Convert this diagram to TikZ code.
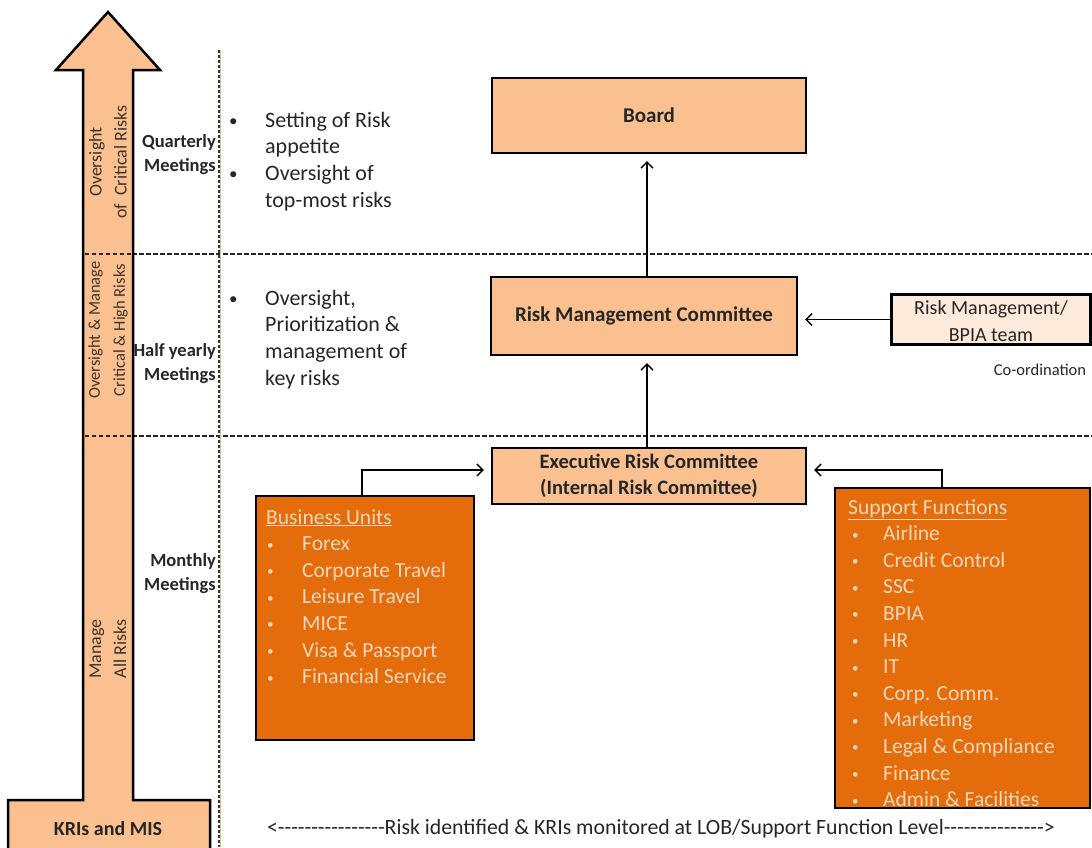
\documentclass[tikz,border=0pt]{standalone}
\usepackage{fontspec}
\setmainfont{Carlito}
\usetikzlibrary{arrows.meta}
\definecolor{lightor}{HTML}{FAC090}
\definecolor{darkor}{HTML}{E46C0A}
\definecolor{paleor}{HTML}{FDEADA}
\definecolor{boxtext}{HTML}{FBD8BC}
\definecolor{ink}{HTML}{262626}
\definecolor{tan}{HTML}{D8C38A}
\newcommand\dashrun[1]{\foreach \k in {1,...,#1}{-\kern0pt}}
\newcommand\smallbul{\raisebox{1.5pt}{\fontsize{13}{13}\selectfont•}}
\newcommand\midbul{\raisebox{0.5pt}{\fontsize{17}{17}\selectfont•}}
\tikzset{
  tierbox/.style={draw=black, line width=2.4pt, fill=lightor, inner sep=0pt, align=center, text=ink},
  listbox/.style={draw=black, line width=2.4pt, fill=darkor, inner sep=0pt},
  conn/.style={line width=1.3pt, -{Straight Barb[length=6pt,width=12pt,line width=1.3pt]}, shorten >=7pt},
  sep/.style={dash pattern=on 4.5pt off 2.5pt, line width=1.1pt, black!85},
  meet/.style={font=\fontsize{18.5}{24}\selectfont\bfseries, align=right, text=ink, inner sep=0pt},
  vtext/.style={rotate=90, font=\fontsize{18}{25}\selectfont, align=center, text=ink!85!brown, inner sep=0pt},
  bline/.style={anchor=base west, inner sep=0pt, font=\fontsize{22}{27}\selectfont, text=ink},
  oline/.style={anchor=base west, inner sep=0pt, font=\fontsize{21.5}{27}\selectfont, text=boxtext},
}
\begin{document}
\begin{tikzpicture}[x=1pt,y=-1pt]
\useasboundingbox (0,0) rectangle (1092,847);
\clip (0,0) rectangle (1092,847);
% separators
\draw[sep] (83,254) -- (1092,254);
\draw[sep] (83,436) -- (1092,436);
% vertical dotted line
\draw[tan, line width=0.9pt] (220.8,50) -- (220.8,847);
\draw[black!80, line width=1.2pt, dash pattern=on 3pt off 2pt] (219,50) -- (219,847);
% big arrow
\draw[fill=lightor, line width=2.5pt, line join=miter]
  (108,12) -- (160,70) -- (133,70) -- (133,800) -- (210,800) -- (210,860)
  -- (8,860) -- (8,800) -- (83,800) -- (83,70) -- (56,70) -- cycle;
\draw[sep] (84.5,254) -- (131.5,254);
\draw[sep] (84.5,436) -- (131.5,436);
\node[vtext] (v1) at (108,162) {Oversight\\of~~Critical Risks};
\node[vtext, font=\fontsize{16.5}{25}\selectfont] (v2) at (108,330) {Oversight \& Manage\\Critical \& High Risks};
\node[vtext] (v3) at (108,649) {Manage\\All Risks};
\node[font=\fontsize{20}{24}\selectfont\bfseries, text=ink] (kri) at (108,829) {KRIs and MIS};
% meeting labels
\node[meet, anchor=east] (m1) at (216,155) {Quarterly\\Meetings};
\node[meet, anchor=east] (m2) at (216,364) {Half yearly\\Meetings};
\node[meet, anchor=east] (m3) at (216,574) {Monthly\\Meetings};
% bullet texts
\node[bline] (t1) at (229,127) {\midbul};
\node[bline] (t2) at (265,127) {Setting of Risk};
\node[bline] (t3) at (265,153.7) {appetite};
\node[bline] (t4) at (229,180.4) {\midbul};
\node[bline] (t5) at (265,180.4) {Oversight of};
\node[bline] (t6) at (265,207) {top-most risks};
\node[bline] (s1) at (229,305) {\midbul};
\node[bline] (s2) at (265,305) {Oversight,};
\node[bline] (s3) at (265,331.7) {Prioritization \&};
\node[bline] (s4) at (265,358.4) {management of};
\node[bline] (s5) at (265,385) {key risks};
% tier boxes
\node[tierbox, minimum width=314pt, minimum height=75pt, font=\fontsize{21}{26}\selectfont\bfseries] (board) at (649,115.5) {Board};
\node[tierbox, minimum width=306pt, minimum height=78pt, font=\fontsize{21}{26}\selectfont\bfseries] (rmc) at (644,316) {Risk Management Committee};
\node[tierbox, minimum width=314pt, minimum height=56pt, font=\fontsize{20.5}{26}\selectfont\bfseries] (erc) at (649,476) {Executive Risk Committee\\(Internal Risk Committee)};
\node[draw=black, line width=2.4pt, fill=paleor, minimum width=198pt, minimum height=49pt, inner sep=0pt] (bpia) at (991,319.5) {};
\node[anchor=base, inner sep=0pt, font=\fontsize{20}{25}\selectfont, text=ink] (bp1) at (991,314) {Risk Management/};
\node[anchor=base, inner sep=0pt, font=\fontsize{20}{25}\selectfont, text=ink] (bp2) at (991,341) {BPIA team};
\draw[line width=2.4pt] (bpia.north west) rectangle (bpia.south east);
\node[font=\fontsize{16.5}{20}\selectfont, text=ink] (coord) at (1040,370) {Co-ordination};
% list boxes
\node[listbox, minimum width=218pt, minimum height=244pt] (bu) at (365,618) {};
\node[listbox, minimum width=255pt, minimum height=320pt] (sf) at (962.5,648) {};
\node[oline] (buh) at (266,524) {\underline{Business Units}};
\foreach \t [count=\i] in {Forex, Corporate Travel, Leisure Travel, MICE, Visa \& Passport, Financial Service} {
  \node[oline] (bub\i) at (267,524+\i*26.6) {\smallbul};
  \node[oline] (bui\i) at (302,524+\i*26.6) {\t};
}
\node[oline] (sfh) at (848,514) {\underline{Support Functions}};
\foreach \t [count=\i] in {Airline, Credit Control, SSC, BPIA, HR, IT, Corp. Comm., Marketing, Legal \& Compliance, Finance, Admin \& Facilities} {
  \node[oline] (sfb\i) at (852,514+\i*26.6) {\smallbul};
  \node[oline] (sfi\i) at (883,514+\i*26.6) {\t};
}
% connectors
\draw[conn] (rmc.north -| 647,0) -- (647,0 |- board.south);
\draw[conn] (erc.north -| 647,0) -- (647,0 |- rmc.south);
\draw[conn] (bpia.west) -- (bpia.west -| rmc.east);
\coordinate (bujoin) at (362,0 |- bu.north);
\coordinate (sfjoin) at (942,0 |- sf.north);
\draw[conn] (bujoin) |- ([yshift=6pt]erc.west);
\draw[conn] (sfjoin) |- ([yshift=6pt]erc.east);
% bottom text
\node[font=\fontsize{21.8}{24}\selectfont, text=ink] (bottom) at (661,829) {<\dashrun{16}Risk identified \& KRIs monitored at LOB/Support Function Level\dashrun{15}>};
\end{tikzpicture}
\end{document}
